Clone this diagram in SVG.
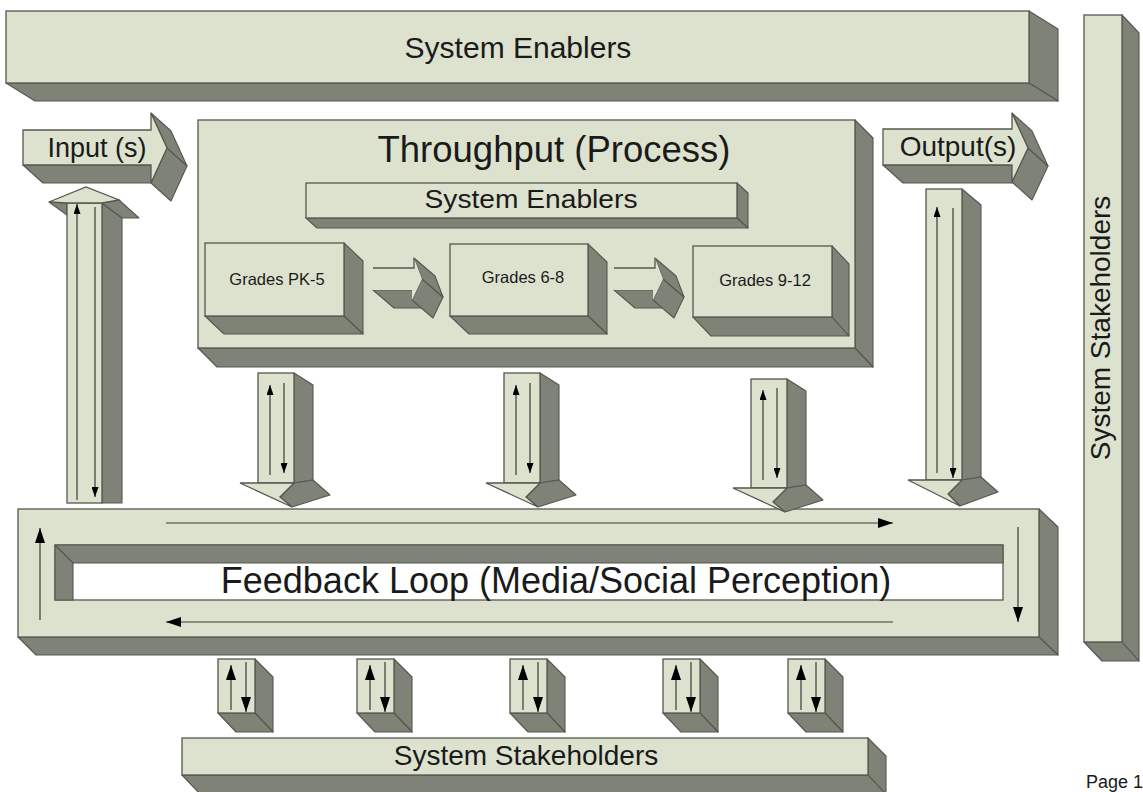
<svg xmlns="http://www.w3.org/2000/svg" width="1143" height="792" viewBox="0 0 1143 792">
<style>
.f{fill:#dde2ce;stroke:#55584f;stroke-width:1.3}
.d{fill:#7f8276;stroke:#55584f;stroke-width:1.1;stroke-linejoin:round}
.nf{fill:#dde2ce;stroke:none}
.e{fill:none;stroke:#55584f;stroke-width:1.3}
.w{fill:#ffffff;stroke:#55584f;stroke-width:1.3}
.ln{stroke:#3a3c36;stroke-width:1.2;fill:none}
.t{font-family:"Liberation Sans",Arial,sans-serif;fill:#1a1a1a;text-anchor:middle}
</style>
<defs>
<marker id="mL" markerUnits="userSpaceOnUse" markerWidth="15" markerHeight="10" viewBox="0 0 15 10" refX="15" refY="5" orient="auto"><path d="M0,0 L15,5 L0,10 z" fill="#000"/></marker>
<marker id="mM" markerUnits="userSpaceOnUse" markerWidth="15" markerHeight="10" viewBox="0 0 15 10" refX="15" refY="5" orient="auto"><path d="M0,0 L15,5 L0,10 z" fill="#000"/></marker>
<marker id="mS" markerUnits="userSpaceOnUse" markerWidth="10" markerHeight="7" viewBox="0 0 10 7" refX="10" refY="3.5" orient="auto"><path d="M0,0 L10,3.5 L0,7 z" fill="#000"/></marker>
</defs>
<rect width="1143" height="792" fill="#ffffff"/>

<g id="top-enablers">
<polygon class="d" points="1029,11 1058,29 1058,101 1029,83"/>
<polygon class="d" points="6,83 1029,83 1058,101 35,101"/>
<rect class="f" x="6" y="11" width="1023" height="72"/>
<text class="t" x="518" y="58" font-size="30">System Enablers</text>
</g>

<g id="right-stakeholders">
<polygon class="d" points="1122,15 1139,33 1139,661 1122,642"/>
<polygon class="d" points="1084,642 1122,642 1139,661 1102,661"/>
<rect class="f" x="1084" y="15" width="38" height="627"/>
<text class="t" font-size="28" transform="translate(1110,328) rotate(-90)">System Stakeholders</text>
</g>

<g id="input">
<polygon class="d" points="23,165 151,165 171,183 43,183"/>
<polygon class="d" points="167,148 151,183 171,201 187,166"/>
<polygon class="d" points="151,113 167,148 187,166 171,131"/>
<polygon class="f" points="23,130 151,130 151,113 167,148 151,183 151,165 23,165"/>
<text class="t" x="97" y="157" font-size="27">Input (s)</text>
</g>

<g id="output">
<polygon class="d" points="883,165 1012,165 1032,183 903,183"/>
<polygon class="d" points="1028,148 1012,182 1032,200 1048,166"/>
<polygon class="d" points="1012,113 1028,148 1048,166 1032,131"/>
<polygon class="f" points="883,129 1012,129 1012,113 1028,148 1012,182 1012,165 883,165"/>
<text class="t" x="958" y="156" font-size="28">Output(s)</text>
</g>

<g id="throughput">
<polygon class="d" points="855,120 873,138 873,367 855,348"/>
<polygon class="d" points="198,348 855,348 873,367 217,367"/>
<rect class="f" x="198" y="120" width="657" height="228"/>
<text class="t" x="554" y="162" font-size="36.5">Throughput (Process)</text>
</g>

<g id="inner-enablers">
<polygon class="d" points="737,183 748,193 748,228 737,218"/>
<polygon class="d" points="306,218 737,218 748,228 317,228"/>
<rect class="f" x="306" y="183" width="431" height="35"/>
<text class="t" x="531" y="208" font-size="25" textLength="213" lengthAdjust="spacingAndGlyphs">System Enablers</text>
</g>

<g id="grades-pk5">
<polygon class="d" points="344,243 363,261 363,334 344,316"/>
<polygon class="d" points="205,316 344,316 363,334 224,334"/>
<rect class="f" x="205" y="243" width="139" height="73"/>
<text class="t" x="277" y="285" font-size="16.5">Grades PK-5</text>
</g>

<g id="grades-68">
<polygon class="d" points="588,244 607,262 607,334 588,316"/>
<polygon class="d" points="450,316 588,316 607,334 469,334"/>
<rect class="f" x="450" y="244" width="138" height="72"/>
<text class="t" x="523" y="283" font-size="16.5">Grades 6-8</text>
</g>

<g id="grades-912">
<polygon class="d" points="832,246 849,264 849,336 832,317"/>
<polygon class="d" points="693,317 832,317 849,336 711,336"/>
<rect class="f" x="693" y="246" width="139" height="71"/>
<text class="t" x="765" y="286" font-size="16.5">Grades 9-12</text>
</g>

<g id="feedback-loop">
<polygon class="d" points="1039,509 1058,527 1058,655 1039,637"/>
<polygon class="d" points="18,637 1039,637 1058,655 36,655"/>
<rect class="f" x="18" y="509" width="1021" height="128"/>
<rect class="w" x="55" y="545" width="948" height="55"/>
<polygon class="d" points="55,545 1003,545 1003,563 73,563 73,600 55,600"/>
<line class="e" x1="55" y1="545" x2="73" y2="563"/>
<text class="t" x="556" y="593" font-size="36">Feedback Loop (Media/Social Perception)</text>
</g>

<g id="bottom-stakeholders">
<polygon class="d" points="868,738 886,756 886,800 868,775"/>
<polygon class="d" points="182,775 868,775 886,794 200,794"/>
<rect class="f" x="182" y="738" width="686" height="37"/>
<text class="t" x="526" y="765" font-size="28">System Stakeholders</text>
</g>

<g id="connectors">
<g>
<polygon class="d" points="373,290 412,290 433,308 394,308"/>
<polygon class="d" points="422,279 412,300 433,318 443,297"/>
<polygon class="d" points="414,258 422,279 443,297 435,276"/>
<polygon class="nf" points="373,268 414,268 414,258 422,279 412,300 412,290 373,290"/>
<polyline class="e" points="373,268 414,268 414,258"/>
</g>
<g transform="translate(241,0)">
<polygon class="d" points="373,290 412,290 433,308 394,308"/>
<polygon class="d" points="422,279 412,300 433,318 443,297"/>
<polygon class="d" points="414,258 422,279 443,297 435,276"/>
<polygon class="nf" points="373,268 414,268 414,258 422,279 412,300 412,290 373,290"/>
<polyline class="e" points="373,268 414,268 414,258"/>
</g>

<g>
<polygon class="d" points="102,203 122,218 122,503 102,503"/>
<polygon class="d" points="49,202 67,203 67,215"/>
<polygon class="d" points="102,203 119,200 139,218 122,218"/>
<rect class="f" x="67" y="203" width="35" height="300"/>
<polygon class="f" points="49,202 86,187 119,200 102,203 67,203"/>
<line class="ln" x1="77" y1="500" x2="77" y2="204" marker-end="url(#mS)"/>
<line class="ln" x1="95" y1="207" x2="95" y2="497" marker-end="url(#mS)"/>
</g>

<g>
<polygon class="d" points="962,189 981,205 981,477 962,480"/>
<polygon class="d" points="948,494 962,480 981,477 998,492 960,506"/>
<rect class="f" x="926" y="189" width="36" height="291"/>
<polygon class="f" points="908,480 962,480 948,494 960,506"/>
<line class="ln" x1="937" y1="473" x2="937" y2="207" marker-end="url(#mS)"/>
<line class="ln" x1="953" y1="208" x2="953" y2="478" marker-end="url(#mS)"/>
</g>

<g>
<polygon class="d" points="294,373 313,385 313,480 294,483"/>
<polygon class="d" points="280,497 294,483 313,480 330,495 292,507"/>
<rect class="f" x="258" y="373" width="36" height="110"/>
<polygon class="f" points="240,483 294,483 280,497 292,507"/>
<line class="ln" x1="270" y1="475" x2="270" y2="385" marker-end="url(#mS)"/>
<line class="ln" x1="284" y1="383" x2="284" y2="473" marker-end="url(#mS)"/>
</g>
<g transform="translate(246,0)">
<polygon class="d" points="294,373 313,385 313,480 294,483"/>
<polygon class="d" points="280,497 294,483 313,480 330,495 292,507"/>
<rect class="f" x="258" y="373" width="36" height="110"/>
<polygon class="f" points="240,483 294,483 280,497 292,507"/>
<line class="ln" x1="270" y1="475" x2="270" y2="385" marker-end="url(#mS)"/>
<line class="ln" x1="284" y1="383" x2="284" y2="473" marker-end="url(#mS)"/>
</g>
<g transform="translate(493,5)">
<polygon class="d" points="294,374 313,386 313,480 294,483"/>
<polygon class="d" points="280,497 294,483 313,480 330,495 292,507"/>
<rect class="f" x="258" y="374" width="36" height="109"/>
<polygon class="f" points="240,483 294,483 280,497 292,507"/>
<line class="ln" x1="270" y1="475" x2="270" y2="385" marker-end="url(#mS)"/>
<line class="ln" x1="284" y1="383" x2="284" y2="473" marker-end="url(#mS)"/>
</g>

<line class="ln" x1="166" y1="523" x2="893" y2="523" marker-end="url(#mL)"/>
<line class="ln" x1="1018" y1="527" x2="1018" y2="622" marker-end="url(#mL)"/>
<line class="ln" x1="893" y1="622" x2="166" y2="622" marker-end="url(#mL)"/>
<line class="ln" x1="40" y1="620" x2="40" y2="528" marker-end="url(#mL)"/>

<g>
<polygon class="d" points="255,659 273,677 273,732 255,713"/>
<polygon class="d" points="218,713 255,713 273,732 236,732"/>
<rect class="f" x="218" y="659" width="37" height="54"/>
<line class="ln" x1="231" y1="710" x2="231" y2="665" marker-end="url(#mM)"/>
<line class="ln" x1="246" y1="662" x2="246" y2="712" marker-end="url(#mM)"/>
</g>
<g transform="translate(139,0)">
<polygon class="d" points="255,659 273,677 273,732 255,713"/>
<polygon class="d" points="218,713 255,713 273,732 236,732"/>
<rect class="f" x="218" y="659" width="37" height="54"/>
<line class="ln" x1="231" y1="710" x2="231" y2="665" marker-end="url(#mM)"/>
<line class="ln" x1="246" y1="662" x2="246" y2="712" marker-end="url(#mM)"/>
</g>
<g transform="translate(292,0)">
<polygon class="d" points="255,659 273,677 273,732 255,713"/>
<polygon class="d" points="218,713 255,713 273,732 236,732"/>
<rect class="f" x="218" y="659" width="37" height="54"/>
<line class="ln" x1="231" y1="710" x2="231" y2="665" marker-end="url(#mM)"/>
<line class="ln" x1="246" y1="662" x2="246" y2="712" marker-end="url(#mM)"/>
</g>
<g transform="translate(445,0)">
<polygon class="d" points="255,659 273,677 273,732 255,713"/>
<polygon class="d" points="218,713 255,713 273,732 236,732"/>
<rect class="f" x="218" y="659" width="37" height="54"/>
<line class="ln" x1="231" y1="710" x2="231" y2="665" marker-end="url(#mM)"/>
<line class="ln" x1="246" y1="662" x2="246" y2="712" marker-end="url(#mM)"/>
</g>
<g transform="translate(570,0)">
<polygon class="d" points="255,659 273,677 273,732 255,713"/>
<polygon class="d" points="218,713 255,713 273,732 236,732"/>
<rect class="f" x="218" y="659" width="37" height="54"/>
<line class="ln" x1="231" y1="710" x2="231" y2="665" marker-end="url(#mM)"/>
<line class="ln" x1="246" y1="662" x2="246" y2="712" marker-end="url(#mM)"/>
</g>
</g>

<text x="1086" y="788" font-family="Liberation Sans, Arial, sans-serif" font-size="18" fill="#1a1a1a">Page 1</text>
</svg>
